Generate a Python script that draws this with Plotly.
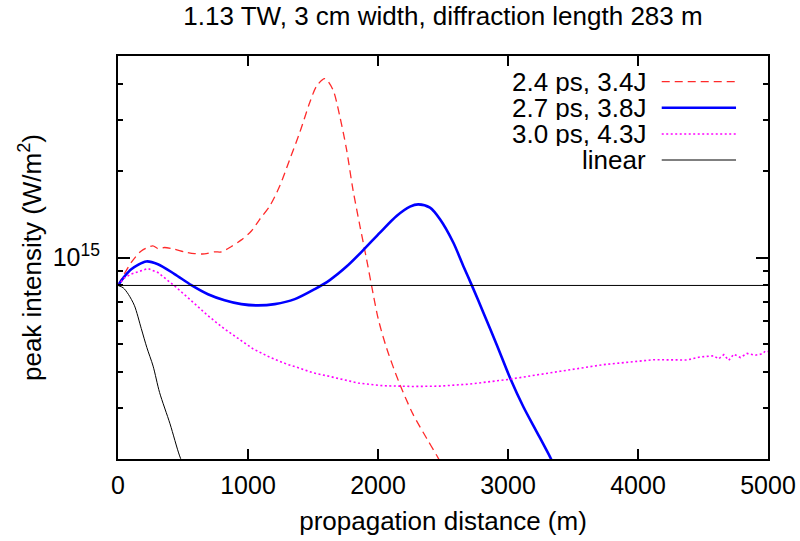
import plotly.graph_objects as go

# ---- data (intensity in units of 1e15 W/m^2) ----
red_x = [0, 50, 102, 179, 268, 307, 358, 435, 512, 589, 666, 743, 795, 872, 949, 1026, 1090,
         1167, 1244, 1321, 1398, 1475, 1527, 1591, 1653, 1706, 1758, 1807, 1861, 1912, 1951,
         2002, 2066, 2169, 2271, 2374, 2451, 2500]
red_v = [0.80, 0.88, 0.961, 1.054, 1.097, 1.074, 1.083, 1.068, 1.046, 1.032, 1.029, 1.046, 1.046,
         1.092, 1.151, 1.236, 1.357, 1.508, 1.769, 2.188, 2.714, 3.447, 3.925, 4.173, 3.823,
         3.090, 2.370, 1.723, 1.286, 0.987, 0.797, 0.612, 0.485, 0.362, 0.285, 0.236, 0.206, 0.188]

blue_x = [0, 50, 102, 217, 307, 435, 564, 692, 820, 949, 1077, 1206, 1360, 1514, 1629, 1758,
          1886, 2015, 2143, 2246, 2310, 2400, 2477, 2579, 2656, 2721, 2810, 2914, 3016, 3119,
          3222, 3324, 3360]
blue_v = [0.80, 0.86, 0.911, 0.969, 0.948, 0.876, 0.802, 0.746, 0.711, 0.689, 0.682, 0.689,
          0.717, 0.777, 0.835, 0.930, 1.06, 1.220, 1.393, 1.501, 1.529, 1.489, 1.357, 1.127,
          0.935, 0.802, 0.645, 0.497, 0.382, 0.303, 0.248, 0.203, 0.188]

mag_x = [0, 50, 102, 230, 307, 435, 564, 692, 820, 949, 1039, 1167, 1296, 1398, 1501, 1604,
         1706, 1847, 2040, 2271, 2477, 2708, 2991, 3170, 3401, 3735, 4120, 4378, 4480, 4583,
         4621, 4660, 4698, 4737, 4788, 4840, 4900, 4955, 4981, 5000]
mag_v = [0.80, 0.85, 0.876, 0.916, 0.887, 0.797, 0.708, 0.628, 0.565, 0.515, 0.482, 0.451,
         0.427, 0.413, 0.398, 0.389, 0.379, 0.367, 0.359, 0.357, 0.358, 0.364, 0.377, 0.389,
         0.403, 0.425, 0.442, 0.441, 0.452, 0.456, 0.445, 0.460, 0.440, 0.462, 0.450, 0.465,
         0.458, 0.463, 0.474, 0.472]

lin_x = [0, 40, 80, 127, 179, 222, 270, 320, 400, 474, 520]
lin_v = [0.80, 0.785, 0.745, 0.68, 0.567, 0.487, 0.42, 0.34, 0.265, 0.205, 0.183]

ref_x = [0, 5000]
ref_v = [0.80, 0.80]

UNIT = 1e15
names = ["2.4 ps, 3.4J", "2.7 ps, 3.8J", "3.0 ps, 4.3J", "linear"]
x_ticks = [0, 1000, 2000, 3000, 4000, 5000]
y_major = [1e15]
y_major_text = ["10<sup>15</sup>"]
y_minor = [2e14, 3e14, 4e14, 5e14, 6e14, 7e14, 8e14, 9e14, 2e15, 3e15, 4e15, 5e15]

FONT = "Liberation Sans, Arial, Helvetica, sans-serif"

styles = [
    dict(color="#ff2a2a", width=1.3, dash="8px,5px"),
    dict(color="#0000ff", width=2.6, dash="solid"),
    dict(color="#ff00ff", width=1.6, dash="2px,2.5px"),
    dict(color="#000000", width=1.0, dash="solid"),
]

fig = go.Figure()
series = [(red_x, red_v, "spline"), (blue_x, blue_v, "spline"),
          (mag_x, mag_v, "linear"), (lin_x, lin_v, "spline")]
for (xs, vs, shape), st, nm in zip(series, styles, names):
    fig.add_trace(go.Scatter(x=xs, y=[v * UNIT for v in vs], mode="lines", name=nm,
                             line=dict(shape=shape, smoothing=0.8, **st), showlegend=False))
fig.add_trace(go.Scatter(x=ref_x, y=[v * UNIT for v in ref_v], mode="lines",
                         line=dict(color="black", width=1.0), showlegend=False))

# gnuplot-style key: right-aligned text with sample line on the right
row_y = [0.9362, 0.8717, 0.8065, 0.7419]
for nm, st, yy in zip(names, styles, row_y):
    fig.add_annotation(xref="paper", yref="paper", x=0.8138, y=yy, text=nm,
                       showarrow=False, xanchor="right", yanchor="middle",
                       height=24, valign="middle", borderpad=0,
                       font=dict(family=FONT, size=26, color="black"))
    fig.add_shape(type="line", xref="paper", yref="paper", x0=0.8365, x1=0.9508,
                  y0=yy, y1=yy, line=st)

fig.update_layout(
    width=800, height=541,
    margin=dict(l=118, r=32, t=56, b=82),
    paper_bgcolor="white", plot_bgcolor="white",
    font=dict(family=FONT, size=25, color="black"),
    title=dict(text="1.13 TW, 3 cm width, diffraction length 283 m", x=0.5, xref="paper",
               xanchor="center", y=1 - 16 / 541, yanchor="middle",
               font=dict(family=FONT, size=26, color="black")),
    showlegend=False,
)
fig.update_xaxes(range=[0, 5000], tickvals=x_ticks, ticktext=[str(t) for t in x_ticks],
                 ticks="inside", ticklen=10, tickwidth=1.5, tickcolor="black",
                 showline=True, linecolor="black", linewidth=2, mirror="allticks",
                 showgrid=False, zeroline=False, automargin=False,
                 title=dict(text="propagation distance (m)", standoff=14,
                            font=dict(family=FONT, size=26, color="black")),
                 tickfont=dict(size=25), ticklabelstandoff=3)
fig.update_yaxes(type="log", range=[14.30103, 15.69897], tickvals=y_major,
                 ticktext=y_major_text,
                 ticks="inside", ticklen=12, tickwidth=1.5, tickcolor="black",
                 minor=dict(tickvals=y_minor, ticks="inside", ticklen=5, tickwidth=1.5,
                            tickcolor="black", showgrid=False),
                 showline=True, linecolor="black", linewidth=2, mirror="allticks",
                 showgrid=False, zeroline=False, automargin=False,
                 title=dict(text="peak intensity (W/m<sup>2</sup>)", standoff=4,
                            font=dict(family=FONT, size=26, color="black")),
                 tickfont=dict(size=25), ticklabelstandoff=11)

fig.write_html("out.html", config={"displayModeBar": False},
               post_script="document.body.style.margin='0px';")
